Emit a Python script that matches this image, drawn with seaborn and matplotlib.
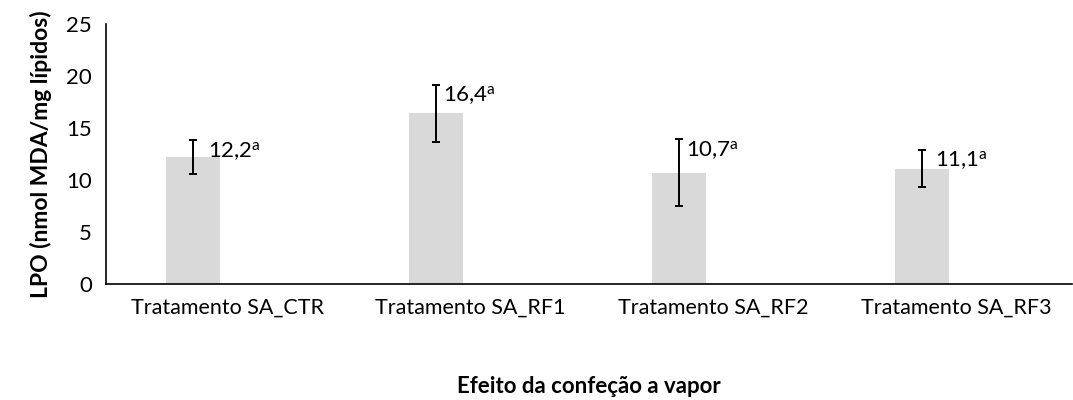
import matplotlib
matplotlib.use("Agg")
import matplotlib.pyplot as plt
import seaborn as sns
import pandas as pd
import numpy as np

categories = ["Tratamento SA_CTR", "Tratamento SA_RF1", "Tratamento SA_RF2", "Tratamento SA_RF3"]
means = [12.2, 16.4, 10.7, 11.1]
errors = [1.6, 2.75, 3.2, 1.8]
labels = ["12,2", "16,4", "10,7", "11,1"]
letters = ["a", "a", "a", "a"]

sns.set_theme(style="white")
plt.rcParams["font.family"] = ["Lato", "DejaVu Sans"]
plt.rcParams["mathtext.fontset"] = "custom"
plt.rcParams["mathtext.rm"] = "Lato"
plt.rcParams["mathtext.it"] = "Lato:italic"
plt.rcParams["mathtext.bf"] = "Lato:bold"

BAR_OFFSET = -0.142
BAR_WIDTH = 0.222
label_dx = [15, 7, 7, 13]  # pixel offsets of value labels

idx = np.arange(len(categories))
df = pd.DataFrame({"pos": idx + BAR_OFFSET, "value": means, "cat": categories})

fig = plt.figure(figsize=(10.73, 4.0), dpi=100)
ax = fig.add_axes([106/1073, 1 - 284/400, (1072 - 106)/1073, (284 - 24)/400])

sns.barplot(data=df, x="pos", y="value", native_scale=True, width=BAR_WIDTH,
            color="#d9d9d9", saturation=1, errorbar=None, ax=ax, linewidth=0)
ax.errorbar(df["pos"], means, yerr=errors, fmt="none", ecolor="black",
            elinewidth=1.4, capsize=2.7, capthick=1.4)

for i, (m, e) in enumerate(zip(means, errors)):
    ax.annotate(f"{labels[i]}$^{{\\mathrm{{{letters[i]}}}}}$",
                xy=(df["pos"][i], m + e), xytext=(label_dx[i] * 0.72, 0.5),
                textcoords="offset points", ha="left", va="top", fontsize=16,
                color="black")

ax.set_xlim(-0.5, 3.475)
ax.set_ylim(0, 25)
ax.set_yticks([0, 5, 10, 15, 20, 25])
ax.set_xticks(idx)
ax.set_xticklabels(categories, fontsize=15.5, color="black")
ax.set_xticks([-0.5, 0.5, 1.5, 2.5], minor=True)
ax.tick_params(axis="x", which="major", length=0, pad=10)
ax.tick_params(axis="x", which="minor", direction="inout", length=10, width=1.2, color="black")
ax.tick_params(axis="y", direction="out", length=5, width=1.2, color="black", labelsize=16,
               labelcolor="black", pad=5)
for s in ["top", "right"]:
    ax.spines[s].set_visible(False)
for s in ["left", "bottom"]:
    ax.spines[s].set_color("black")
    ax.spines[s].set_linewidth(1.2)

ax.set_ylabel("LPO (nmol MDA/mg lípidos)", fontsize=16.5, fontweight="bold", labelpad=10, color="black")
ax.set_xlabel("Efeito da confeção a vapor", fontsize=16, fontweight="bold", labelpad=42, color="black")

fig.savefig("out.png", dpi=100, facecolor="white")
